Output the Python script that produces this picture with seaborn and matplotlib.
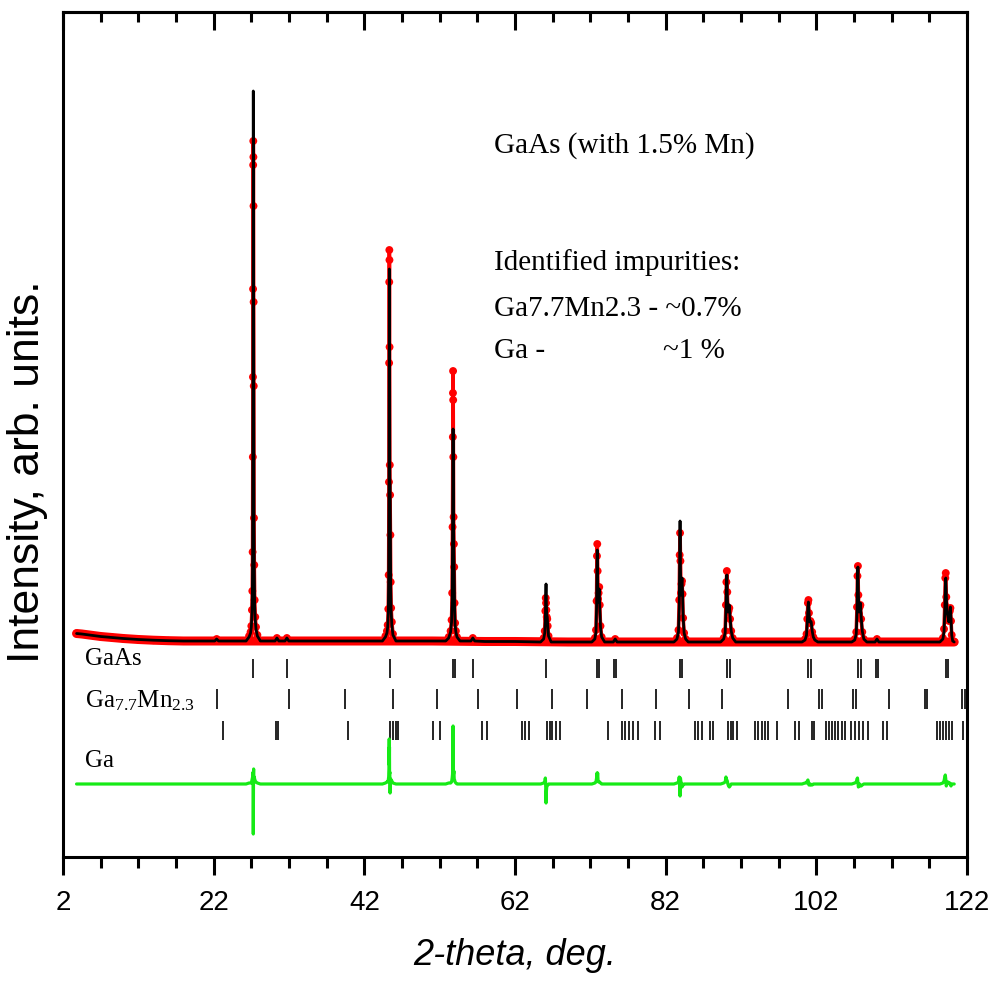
import numpy as np
import pandas as pd
import matplotlib
matplotlib.use("Agg")
import matplotlib.pyplot as plt
import seaborn as sns

# ---------------- data (intensity in arbitrary units) ----------------
x_major = [2, 22, 42, 62, 82, 102, 122]
x_minor = [7, 12, 17, 27, 32, 37, 47, 52, 57, 67, 72, 77, 87, 92, 97, 107, 112, 117]

# background of the pattern (observed == calculated there)
bg_x = [3.8, 4.5, 5.5, 7.0, 8.5, 10.0, 12.0, 14.0, 16.0, 18.0, 20.0, 24.0, 29.0, 34.0,
        38.0, 42.0, 48.0, 51.0, 58.0, 62.0, 69.0, 78.0, 81.0, 87.0, 95.0, 98.0, 104.0,
        112.0, 116.0, 118.0, 120.3]
bg_y = [223.5, 223.0, 222.0, 220.5, 219.5, 218.5, 217.5, 216.8, 216.3, 216.0, 216.0, 216.0,
        216.0, 216.0, 216.0, 216.0, 216.0, 216.0, 215.5, 215.5, 215.0, 215.0, 215.0, 215.0,
        215.0, 215.0, 215.0, 215.0, 215.0, 215.0, 215.0]

# weak impurity bumps
bump_x = [22.15, 22.4, 22.65, 30.15, 30.4, 30.65, 31.47, 31.72, 31.97,
          56.15, 56.4, 56.65, 75.05, 75.3, 75.55, 109.8, 110.05, 110.3]
bump_y = [216, 218, 216, 216, 219, 216, 216, 219, 216,
          216, 219, 216, 215, 218, 215, 215, 218, 215]

# GaAs reflections: 2-theta, observed, calculated
pA_x = [26.3, 26.7, 26.9, 27.0, 27.08, 27.13, 27.17, 27.20, 27.215, 27.23, 27.245, 27.26,
        27.275, 27.29, 27.305, 27.32, 27.35, 27.39, 27.44, 27.52, 27.62, 27.8, 28.2]
pA_obs = [216, 221, 225, 231, 247, 266, 305, 400, 480, 568, 692, 716,
          700, 651, 555, 471, 339, 292, 257, 240, 230, 222, 216]
pA_calc = [216, 220, 224, 230, 243, 260, 298, 390, 470, 560, 680, 766,
           700, 640, 540, 470, 335, 285, 252, 237, 228, 221, 216]

pB_x = [44.4, 44.8, 45.0, 45.1, 45.18, 45.23, 45.27, 45.29, 45.305, 45.32, 45.335, 45.35,
        45.38, 45.42, 45.46, 45.50, 45.56, 45.65, 45.8, 46.2]
pB_obs = [216, 221, 226, 232, 248, 282, 375, 494, 575, 607, 597, 510,
          392, 362, 322, 275, 249, 235, 223, 216]
pB_calc = [216, 220, 224, 230, 244, 275, 360, 450, 530, 588, 560, 500,
           380, 371, 320, 270, 245, 232, 222, 216]

pC_x = [52.8, 53.2, 53.45, 53.58, 53.66, 53.71, 53.75, 53.765, 53.78, 53.795, 53.81, 53.85,
        53.89, 53.93, 53.98, 54.05, 54.15, 54.3, 54.7]
pC_obs = [216, 220, 226, 237, 264, 330, 420, 464, 486, 457, 400, 340,
          313, 290, 254, 234, 226, 220, 216]
pC_calc = [216, 219, 225, 235, 258, 320, 395, 420, 428, 415, 390, 330,
           300, 285, 250, 232, 225, 220, 216]

pD_x = [65.4, 65.8, 65.95, 66.03, 66.08, 66.12, 66.16, 66.21, 66.28, 66.34, 66.45, 66.8]
pD_obs = [215, 219, 226, 246, 259, 254, 247, 240, 238, 231, 221, 215]
pD_calc = [215, 218, 224, 240, 262, 273, 255, 243, 240, 232, 221, 215]

pE_x = [72.2, 72.6, 72.75, 72.83, 72.88, 72.92, 72.97, 73.03, 73.1, 73.18, 73.25, 73.35, 73.5, 73.9]
pE_obs = [215, 219, 227, 256, 301, 313, 286, 258, 264, 270, 252, 231, 220, 215]
pE_calc = [215, 218, 225, 250, 290, 307, 275, 255, 262, 268, 250, 230, 220, 215]

pF_x = [83.1, 83.5, 83.7, 83.8, 83.86, 83.91, 83.96, 84.03, 84.1, 84.17, 84.24, 84.32, 84.45, 84.65, 85.0]
pF_obs = [215, 219, 227, 257, 302, 324, 296, 264, 273, 276, 263, 239, 224, 218, 215]
pF_calc = [215, 218, 225, 250, 300, 336, 290, 262, 272, 279, 265, 240, 224, 218, 215]

pG_x = [89.3, 89.7, 89.9, 90.0, 90.06, 90.12, 90.18, 90.26, 90.35, 90.45, 90.55, 90.7, 90.9, 91.3]
pG_obs = [215, 219, 226, 252, 275, 286, 265, 245, 246, 249, 238, 226, 219, 215]
pG_calc = [215, 218, 224, 245, 270, 282, 262, 245, 248, 252, 240, 226, 219, 215]

pH_x = [100.1, 100.5, 100.7, 100.8, 100.88, 100.95, 101.02, 101.12, 101.22, 101.32, 101.45, 101.6, 101.8, 102.2]
pH_obs = [215, 218, 223, 238, 254, 257, 244, 234, 236, 234, 225, 220, 217, 215]
pH_calc = [215, 217, 222, 235, 250, 255, 245, 235, 236, 235, 226, 220, 217, 215]

pI_x = [106.7, 107.1, 107.3, 107.4, 107.46, 107.52, 107.58, 107.66, 107.75, 107.85, 107.95, 108.1, 108.3, 108.7]
pI_obs = [215, 218, 225, 250, 281, 291, 262, 243, 250, 252, 238, 225, 218, 215]
pI_calc = [215, 217, 223, 245, 275, 290, 265, 245, 250, 254, 240, 226, 218, 215]

pJ_x = [118.4, 118.8, 118.95, 119.05, 119.12, 119.18, 119.25, 119.35, 119.48, 119.6, 119.72,
        119.8, 119.88, 119.97, 120.1, 120.3]
pJ_obs = [215, 219, 228, 252, 279, 284, 260, 246, 242, 236, 246, 249, 236, 222, 216, 215]
pJ_calc = [215, 218, 225, 245, 270, 279, 262, 245, 240, 235, 245, 250, 238, 222, 216, 215]

# Bragg reflection markers for each phase (2-theta)
ticks_gaas = [27.26, 31.70, 45.41, 53.81, 54.04, 56.47, 66.12, 72.82, 73.09, 75.15, 75.42,
              83.91, 84.17, 90.19, 90.48, 100.94, 101.23, 107.58, 107.87, 109.86, 110.13,
              119.15, 119.48]
ticks_gamn = [22.40, 31.96, 39.44, 45.85, 51.69, 57.05, 62.23, 66.95, 71.60, 76.17, 80.68,
              85.10, 89.44, 98.20, 102.42, 102.69, 106.87, 107.20, 111.69, 116.36, 116.63,
              121.34, 121.67]
ticks_ga = [23.20, 30.28, 30.54, 39.87, 45.41, 45.85, 46.21, 46.47, 51.16, 52.05, 57.58, 58.25,
            62.89, 63.33, 63.86, 66.29, 66.58, 66.87, 67.45, 67.98, 74.39, 76.17, 76.61, 77.18,
            77.71, 78.37, 80.59, 81.26, 85.90, 86.34, 86.79, 87.89, 88.25, 90.32, 90.68, 90.98,
            91.43, 93.86, 94.30, 94.75, 95.19, 95.63, 96.74, 99.17, 99.74, 101.39, 101.69,
            103.25, 103.69, 104.08, 104.48, 104.88, 105.37, 105.81, 106.61, 107.14, 107.71,
            108.24, 108.90, 110.89, 111.35, 118.06, 118.42, 118.82, 119.21, 119.61, 119.97,
            121.52, 121.96]

phase_labels = ["GaAs", "Ga$_{7.7}$Mn$_{2.3}$", "Ga"]
info_lines = ["GaAs (with 1.5% Mn)", "Identified impurities:", "Ga7.7Mn2.3 - ~0.7%", "Ga -", "~1 %"]

# ---------------- assemble profile ----------------
segments = [(pA_x, pA_obs, pA_calc), (pB_x, pB_obs, pB_calc), (pC_x, pC_obs, pC_calc),
            (pD_x, pD_obs, pD_calc), (pE_x, pE_obs, pE_calc), (pF_x, pF_obs, pF_calc),
            (pG_x, pG_obs, pG_calc), (pH_x, pH_obs, pH_calc), (pI_x, pI_obs, pI_calc),
            (pJ_x, pJ_obs, pJ_calc)]
for i in range(0, len(bump_x), 3):
    segments.append((bump_x[i:i + 3], bump_y[i:i + 3], bump_y[i:i + 3]))

ranges = [(min(s[0]), max(s[0])) for s in segments]
keep = [not any(lo <= x <= hi for lo, hi in ranges) for x in bg_x]
xs = [x for x, k in zip(bg_x, keep) if k]
obs = [y for y, k in zip(bg_y, keep) if k]
calc = list(obs)
for sx, so, sc in segments:
    xs += list(sx)
    obs += list(so)
    calc += list(sc)
df = pd.DataFrame({"two_theta": xs, "obs": obs, "calc": calc}).sort_values("two_theta")
DIFF_BASE = 73
df["diff"] = df["obs"] - df["calc"] + DIFF_BASE
bg_df = pd.DataFrame({"two_theta": bg_x, "obs": bg_y})

# ---------------- styling ----------------
sns.set_theme(style="ticks")
plt.rcParams["font.family"] = ["Liberation Sans", "DejaVu Sans"]
plt.rcParams["text.color"] = "black"
plt.rcParams["axes.labelcolor"] = "black"
plt.rcParams["xtick.color"] = "black"
plt.rcParams["ytick.color"] = "black"
plt.rcParams["mathtext.fontset"] = "custom"
plt.rcParams["mathtext.rm"] = "Liberation Serif"
plt.rcParams["mathtext.it"] = "Liberation Serif:italic"

fig = plt.figure(figsize=(9.95, 9.9), dpi=100)
ax = fig.add_axes([63 / 995, 133 / 990, 904 / 995, 845 / 990])

sns.lineplot(data=bg_df, x="two_theta", y="obs", color="#ff0000", lw=6.5,
             estimator=None, sort=False, ax=ax, zorder=1)
sns.lineplot(data=df, x="two_theta", y="obs", color="#ff0000", lw=2.6,
             estimator=None, sort=False, ax=ax, zorder=2)
sns.scatterplot(data=df, x="two_theta", y="obs", color="#ff0000", s=32,
                edgecolor="none", linewidth=0, ax=ax, zorder=3)
sns.lineplot(data=df, x="two_theta", y="calc", color="black", lw=2.0,
             estimator=None, sort=False, ax=ax, zorder=4)
sns.lineplot(data=df, x="two_theta", y="diff", color="#16ea16", lw=2.3,
             estimator=None, sort=False, ax=ax, zorder=4)

ax.vlines(ticks_gaas, 179, 198, color="black", lw=1.2)
ax.vlines(ticks_gamn, 148, 168, color="black", lw=1.2)
ax.vlines(ticks_ga, 117, 136, color="black", lw=1.2)

serif = "Liberation Serif"
ax.text(4.9, 192, phase_labels[0], fontsize=18, family=serif, va="baseline", color="black")
ax.text(4.9, 150, phase_labels[1], fontsize=18, family=serif, va="baseline", color="black")
ax.text(4.9, 90, phase_labels[2], fontsize=18, family=serif, va="baseline", color="black")

ax.text(59.2, 704, info_lines[0], fontsize=21, family=serif, va="baseline", color="black")
ax.text(59.2, 587, info_lines[1], fontsize=21, family=serif, va="baseline", color="black")
ax.text(59.2, 541, info_lines[2], fontsize=21, family=serif, va="baseline", color="black")
ax.text(59.2, 499, info_lines[3], fontsize=21, family=serif, va="baseline", color="black")
ax.text(81.6, 499, info_lines[4], fontsize=21, family=serif, va="baseline", color="black")

ax.set_xlim(2, 122)
ax.set_ylim(0, 845)
ax.set_xticks(x_major)
ax.set_xticks(x_minor, minor=True)
ax.set_xticklabels([str(v) for v in x_major])
ax.set_yticks([])
ax.tick_params(axis="x", which="major", direction="out", length=13, width=2.2,
               labelsize=20, pad=10.5, colors="black")
ax.tick_params(axis="x", which="minor", direction="out", length=8, width=2.2)
for sp in ax.spines.values():
    sp.set_visible(True)
    sp.set_linewidth(2.2)
    sp.set_color("black")

sec = ax.secondary_xaxis("top")
sec.set_xticks(x_major)
sec.set_xticks(x_minor, minor=True)
sec.tick_params(axis="x", which="major", direction="in", length=13, width=2.2, labeltop=False)
sec.tick_params(axis="x", which="minor", direction="in", length=7, width=2.2)
sec.spines["top"].set_linewidth(2.2)

ax.set_xlabel("2-theta, deg.", fontsize=26, fontstyle="italic", color="black")
ax.xaxis.set_label_coords(0.5, -0.096)
ax.set_ylabel("Intensity, arb. units.", fontsize=32, color="black")
ax.yaxis.set_label_coords(-0.017, 0.456)

fig.savefig("out.png", dpi=100)
